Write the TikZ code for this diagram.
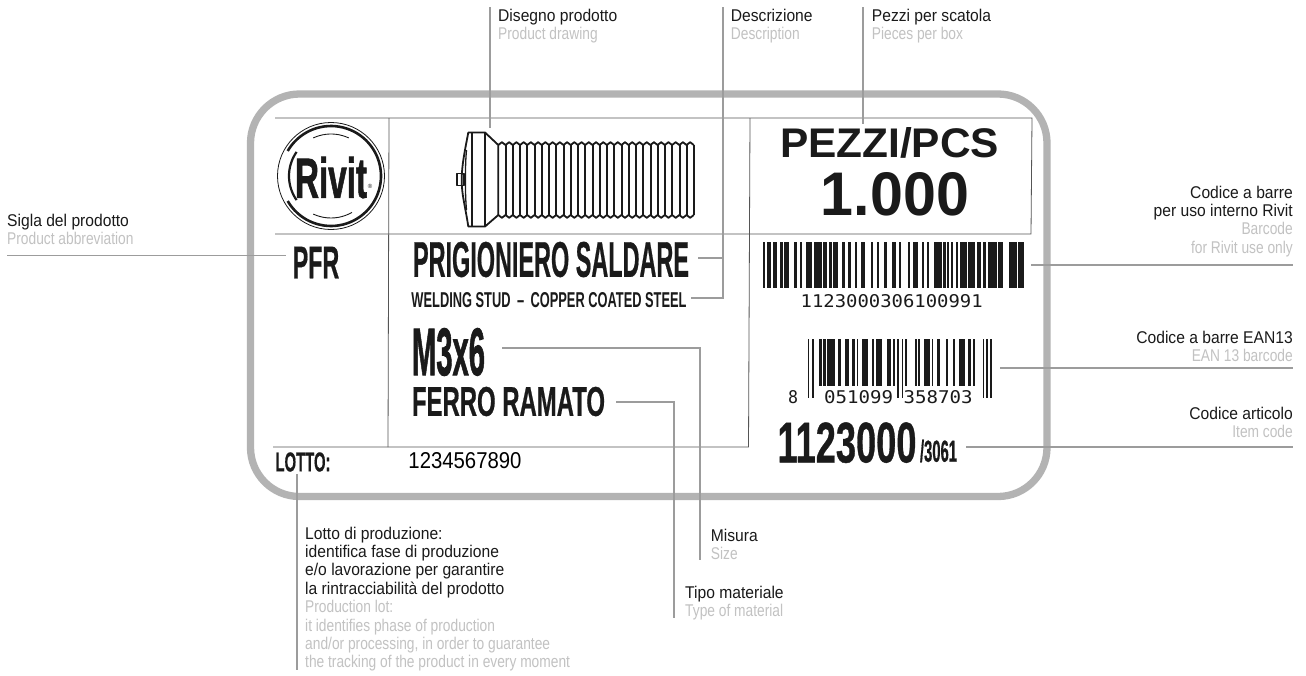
\documentclass[tikz,border=0pt]{standalone}
\usepackage{fontspec}
\setmainfont{Liberation Sans}
\newfontfamily\capblack[FakeStretch=0.92]{Liberation Sans}
\newfontfamily\capgrey[FakeStretch=0.81]{Liberation Sans}
\newfontfamily\heavy[FakeBold=0.8]{Liberation Sans Bold}
\newfontfamily\heavier[FakeBold=1.5]{Liberation Sans Bold}
\newfontfamily\heavyw{Liberation Sans Bold}
\newfontfamily\ocr{DejaVu Sans Mono}
\definecolor{framegray}{HTML}{B3B3B3}
\definecolor{leadergray}{HTML}{9C9C9C}
\definecolor{rulegray}{HTML}{555555}
\definecolor{engray}{HTML}{C2C2C2}
\definecolor{inkblack}{HTML}{1A1A1A}
\tikzset{
  x=1pt,y=-1pt,
  leader/.style={draw=leadergray,line width=1.6pt},
  labelrule/.style={draw=rulegray,line width=0.8pt},
  captxt/.style={font=\capblack\fontsize{17}{18.4}\selectfont,align=left,anchor=north west,inner sep=0pt,text=inkblack},
  captxtr/.style={captxt,align=right,anchor=north east},
  printed/.style={inner sep=0pt,text=inkblack,anchor=center},
}
\newcommand{\en}[1]{{\capgrey\textcolor{engray}{#1}}}
% real text fitted to a measured width and height
\newcommand{\fitH}[3]{\resizebox{#1pt}{#2pt}{\heavy #3}}
\newcommand{\fitX}[3]{\resizebox{#1pt}{#2pt}{\heavier #3}}
\newcommand{\fitW}[3]{\resizebox{#1pt}{#2pt}{\heavyw #3}}
\newcommand{\fitO}[3]{\resizebox{#1pt}{#2pt}{\ocr #3}}
\newcommand{\barset}[3]{\foreach \bx/\bw in {#3}{\fill[inkblack] (\bx,#1) rectangle ++(\bw,#2-#1);}}
\begin{document}
\begin{tikzpicture}
\useasboundingbox (0,0) rectangle (1306,675);
\fill[white] (0,0) rectangle (1306,675);
% frame
\draw[framegray,line width=7.3pt,rounded corners=49pt] (250.5,94) rectangle (1047,496.5);
% label rules
\draw[labelrule] (275,118) -- (1032,118) -- (1031,234) -- (275,234);
\draw[labelrule] (389,118) -- (388,447);
\draw[labelrule] (750,118) -- (748.5,447) -- (273,447);
% logo
\begin{scope}[inkblack]
\draw[line width=0.8pt] (331,176) circle (53.5pt);
\draw[line width=2.6pt] plot[domain=150:-150,samples=70,smooth] ({331+50*cos(\x)},{176-50*sin(\x)});
\draw[line width=2.2pt] plot[domain=145:215,samples=20,smooth] ({331+42*cos(\x)},{176-42*sin(\x)});
\draw[line width=0.9pt] plot[domain=65:115,samples=12,smooth] ({331+42*cos(\x)},{176-42*sin(\x)});
\draw[line width=0.9pt] plot[domain=-115:-60,samples=12,smooth] ({331+42*cos(\x)},{176-42*sin(\x)});
\end{scope}
\node[printed] (rivit) at (331,177.5) {\fitX{72}{41}{Rivit}};
\node[printed,font=\fontsize{6}{6}\selectfont] (regmark) at (370,186) {®};
% stud
\begin{scope}[inkblack,line width=1.8pt,line join=round]
\draw (457,173.5) rectangle (464,185.5);
\draw (468.3,132.5) -- (485,132.5) -- (498.3,145) -- (498.3,215) -- (485,226.5) -- (468.3,226.5) .. controls (465,205) and (461.7,195) .. (461.7,180) .. controls (461.7,165) and (465,150) .. (468.3,132.5) -- cycle;
\draw (471.7,132.5) -- (471.7,226.5);
\draw (485,132.5) -- (485,226.5);
\draw[line width=1.3pt] (466.5,150) .. controls (465,165) and (465,195) .. (466.5,210);
\draw (498.3,145) \foreach \i in {0,...,26} {-- ++(3.62,-2.8) -- ++(3.62,2.8)};
\draw (498.3,215) \foreach \i in {0,...,26} {-- ++(3.62,2.8) -- ++(3.62,-2.8)};
\draw (694,145) -- (694,215);
\foreach \i in {1,...,26} {\draw[line width=1.9pt] ({498.3+7.25*\i},145) -- ({498.3+7.25*\i},215);}
\end{scope}
% printed text
\node[printed] (pezzi) at (889.5,143) {\fitW{219}{30}{PEZZI/PCS}};
\node[printed] (mille) at (895,194.5) {\fitW{148}{43}{1.000}};
\node[printed] (pfr) at (316,262.5) {\fitH{46.5}{31.5}{PFR}};
\node[printed] (prig) at (551,259.5) {\fitH{276}{35}{PRIGIONIERO SALDARE}};
\node[printed] (weld) at (549,300.5) {\resizebox{275pt}{15pt}{\heavyw WELDING STUD\enspace–\enspace COPPER COATED STEEL}};
\node[printed] (size) at (448.5,352) {\fitX{73}{47}{M3x6}};
\node[printed] (ferro) at (508.5,401.5) {\fitH{193}{29}{FERRO RAMATO}};
\node[printed] (lotto) at (303,462) {\fitH{55}{19}{LOTTO:}};
\node[printed,text=black] (lotnum) at (465,461) {\resizebox{113pt}{16pt}{1234567890}};
\node[printed] (num1) at (891.7,301.5) {\fitO{182}{13}{1123000306100991}};
\node[printed] (num2) at (793,397.5) {\fitO{10}{13}{8}};
\node[printed] (num3) at (858.7,397.5) {\fitO{69}{13}{051099}};
\node[printed] (num4) at (938,397.5) {\fitO{69}{13}{358703}};
\node[printed] (item) at (847,442.7) {\fitH{139}{40}{1123000}};
\node[printed] (itemb) at (938.5,451) {\fitH{37}{22}{/3061}};
% barcode 1 (top)
\barset{241.7}{288.3}{762.7/2.7,767.3/3.3,773.3/4,780/2.7,784.3/4.3,794.3/2.3,800/2,805.7/6,814/7.7,823.3/4,829.3/2.3,833.3/5,841.7/3.3,848.3/2.3,855/1.7,860.7/4.3,870.7/2,877.3/2,884/2.7,891.7/4.3,899.3/2,907.7/2.3,913.3/4.3,921.7/2.3,926.7/2,934.3/7.3,943.3/2.7,947.3/2,950.7/2.7,955.7/2.7,960/6.7,968/7,977.3/3.3,982.7/3.3,988.3/8.3,998.3/5,1009.3/7.3,1018.3/6}
% barcode 2 (EAN)
\barset{339.3}{398}{807.7/1.7,811.7/2,896.7/2.7,901.7/1.7,982.7/1.7,986/2.3,990/2.3}
\barset{339.3}{386}{819.3/2.7,823.3/2.3,827.3/2,829.3/5.7,838.3/2.7,845/4,852.3/2.7,856.7/1.7,862.3/6,871.7/2.3,875.7/6,887.3/3.3,892.7/2.7,905/2.3,915/1.7,918.3/1.7,924/6,931.7/1.7,937.3/2.7,945.7/2,953.3/2,959.3/5.7,968.3/2.3,972.7/2.3}
% callouts
\node[captxt] (tdis) at (498,8.5) {Disegno prodotto\\\en{Product drawing}};
\node[captxt] (tdes) at (730.7,8.5) {Descrizione\\\en{Description}};
\node[captxt] (tpez) at (871.7,8.5) {Pezzi per scatola\\\en{Pieces per box}};
\node[captxt] (tsig) at (7,213.5) {Sigla del prodotto\\\en{Product abbreviation}};
\node[captxtr] (tbar) at (1293,185.5) {Codice a barre\\per uso interno Rivit\\\en{Barcode}\\\en{for Rivit use only}};
\node[captxtr] (tean) at (1293,330.5) {Codice a barre EAN13\\\en{EAN 13 barcode}};
\node[captxtr] (tart) at (1293,406.5) {Codice articolo\\\en{Item code}};
\node[captxt] (tlot) at (305,526.5) {Lotto di produzione:\\identifica fase di produzione\\e/o lavorazione per garantire\\la rintracciabilit\`a del prodotto\\\en{Production lot:}\\\en{it identifies phase of production}\\\en{and/or processing, in order to guarantee}\\\en{the tracking of the product in every moment}};
\node[captxt] (tmis) at (710.7,529) {Misura\\\en{Size}};
\node[captxt] (ttip) at (685,586) {Tipo materiale\\\en{Type of material}};
% leaders
\coordinate (a1) at (490,7); \coordinate (a2) at (490,128);
\draw[leader] (a1) -- (a2);
\coordinate (b1) at (722.7,7); \coordinate (b2) at (722.7,298); \coordinate (b3) at (691,298); \coordinate (b4) at (722.7,258); \coordinate (b5) at (698,258);
\draw[leader] (b1) -- (b2) -- (b3); \draw[leader] (b4) -- (b5);
\coordinate (c1) at (862.7,7); \coordinate (c2) at (862.7,124);
\draw[leader] (c1) -- (c2);
\coordinate (d1) at (7,255.5); \coordinate (d2) at (286,255.5);
\draw[leader] (d1) -- (d2);
\coordinate (e1) at (1031,265); \coordinate (e2) at (1293,265);
\draw[leader] (e1) -- (e2);
\coordinate (f1) at (1000,368); \coordinate (f2) at (1293,368);
\draw[leader] (f1) -- (f2);
\coordinate (g1) at (966,447); \coordinate (g2) at (1293,447);
\draw[leader] (g1) -- (g2);
\coordinate (h1) at (502,348); \coordinate (h2) at (700,348); \coordinate (h3) at (700,560);
\draw[leader] (h1) -- (h2) -- (h3);
\coordinate (i1) at (616,402); \coordinate (i2) at (674,402); \coordinate (i3) at (674,618);
\draw[leader] (i1) -- (i2) -- (i3);
\coordinate (j1) at (297,474); \coordinate (j2) at (297,670);
\draw[leader] (j1) -- (j2);
\end{tikzpicture}
\end{document}
